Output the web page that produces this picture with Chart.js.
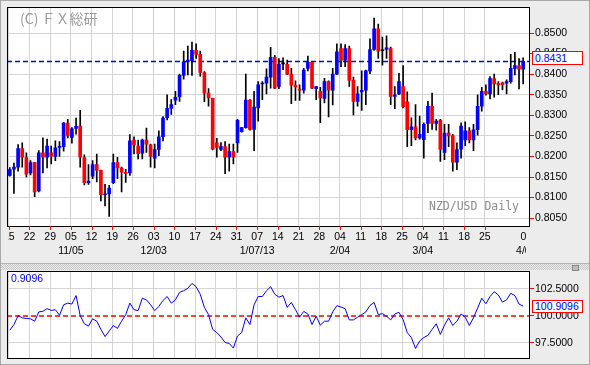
<!DOCTYPE html>
<html>
<head>
<meta charset="utf-8">
<script src="https://cdn.jsdelivr.net/npm/chart.js@4.4.1/dist/chart.umd.min.js"></script>
<style>
html, body { margin: 0; padding: 0; }
body { width: 590px; height: 365px; position: relative; overflow: hidden; background: #ececec; font-family: "Liberation Sans", Arial, sans-serif; }
#frame { position: absolute; left: 0; top: 0; width: 588px; height: 363px; border: 1px solid #a8a8a8; }
#strip { position: absolute; left: 1px; top: 263px; width: 588px; height: 6px; border-top: 1px solid #b4b4b4;
  background: repeating-conic-gradient(#c6c6c6 0 25%, #ececec 0 50%) 0 0 / 2px 2px; }
#stripIcon { position: absolute; left: 572px; top: 265px; width: 5px; height: 4px; border: 1px solid #8a8a8a; background: #bdbdbd; }
canvas { position: absolute; left: 0; }
#main { top: 0; }
#osc { top: 262px; }
.txt { position: absolute; white-space: nowrap; z-index: 5; }
#wm { left: 20px; top: 10px; font: 14px/16px "Noto Sans CJK JP", sans-serif; color: #9a9a9a; }
#pair { left: 429px; top: 199px; font: 11.5px/14px "DejaVu Sans Mono", monospace; color: #8c8c8c; }
.box { position: absolute; z-index: 5; border: 1px solid #ff0000; background: #fff; color: #0000ff; font-size: 10.5px; padding-left: 2px; box-sizing: border-box; }
#priceBox { left: 532px; top: 51px; width: 51px; height: 14px; line-height: 12px; }
#oscBox { left: 532px; top: 300px; width: 51px; height: 13px; line-height: 11px; }
#oscVal { left: 11px; top: 272px; font-size: 10.5px; line-height: 13px; color: #0000ff; }
</style>
</head>
<body>
<div id="frame"></div>
<div id="strip"></div>
<div id="stripIcon"></div>
<canvas id="main" width="590" height="262"></canvas>
<canvas id="osc" width="590" height="103"></canvas>
<div class="txt" id="wm">(C) ＦＸ総研</div>
<div class="txt" id="pair">NZD/USD Daily</div>
<div class="box" id="priceBox">0.8431</div>
<div class="box" id="oscBox">100.9096</div>
<div class="txt" id="oscVal">0.9096</div>
<script>
// NZD/USD daily, 2012/10/15 - 2013/04/05
const opens = [0.8154,0.8169,0.8174,0.8219,0.8197,0.8160,0.8185,0.8116,0.8209,0.8198,
  0.8209,0.8200,0.8222,0.8224,0.8281,0.8246,0.8268,0.8274,0.8197,0.8136,
  0.8152,0.8180,0.8166,0.8107,0.8109,0.8136,0.8185,0.8172,0.8161,0.8160,
  0.8240,0.8225,0.8208,0.8240,0.8228,0.8196,0.8217,0.8248,0.8294,0.8317,
  0.8337,0.8345,0.8397,0.8430,0.8433,0.8458,0.8448,0.8404,0.8354,0.8341,
  0.8233,0.8217,0.8224,0.8198,0.8212,0.8233,0.8260,0.8270,0.8337,0.8266,
  0.8318,0.8376,0.8378,0.8393,0.8441,0.8370,0.8425,0.8424,0.8400,0.8373,
  0.8364,0.8361,0.8414,0.8429,0.8365,0.8358,0.8341,0.8382,0.8361,0.8400,
  0.8462,0.8434,0.8462,0.8385,0.8334,0.8357,0.8361,0.8408,0.8460,0.8510,
  0.8457,0.8460,0.8462,0.8346,0.8352,0.8370,0.8333,0.8265,0.8272,0.8245,
  0.8241,0.8280,0.8322,0.8280,0.8288,0.8210,0.8257,0.8250,0.8186,0.8218,
  0.8240,0.8262,0.8240,0.8265,0.8322,0.8358,0.8352,0.8389,0.8378,0.8379,
  0.8378,0.8382,0.8414,0.8421,0.8412];
const highs = [0.8173,0.8184,0.8229,0.8233,0.8209,0.8190,0.8186,0.8214,0.8245,0.8242,
  0.8225,0.8238,0.8236,0.8283,0.8290,0.8270,0.8293,0.8312,0.8204,0.8180,
  0.8190,0.8206,0.8167,0.8132,0.8130,0.8206,0.8198,0.8174,0.8169,0.8253,
  0.8248,0.8240,0.8242,0.8269,0.8230,0.8230,0.8262,0.8297,0.8350,0.8338,
  0.8358,0.8400,0.8456,0.8468,0.8478,0.8474,0.8456,0.8406,0.8365,0.8342,
  0.8244,0.8234,0.8236,0.8230,0.8230,0.8290,0.8271,0.8400,0.8338,0.8358,
  0.8382,0.8382,0.8413,0.8465,0.8446,0.8438,0.8440,0.8434,0.8414,0.8384,
  0.8374,0.8414,0.8444,0.8430,0.8370,0.8368,0.8390,0.8384,0.8414,0.8474,
  0.8474,0.8472,0.8468,0.8393,0.8370,0.8408,0.8410,0.8486,0.8536,0.8522,
  0.8490,0.8493,0.8466,0.8370,0.8402,0.8421,0.8357,0.8294,0.8326,0.8298,
  0.8282,0.8334,0.8354,0.8290,0.8290,0.8278,0.8278,0.8254,0.8233,0.8282,
  0.8284,0.8270,0.8278,0.8350,0.8368,0.8374,0.8394,0.8400,0.8382,0.8381,
  0.8386,0.8448,0.8453,0.8438,0.8440];
const lows = [0.8152,0.8110,0.8164,0.8174,0.8150,0.8155,0.8102,0.8114,0.8160,0.8172,
  0.8182,0.8190,0.8200,0.8213,0.8245,0.8232,0.8254,0.8174,0.8131,0.8132,
  0.8146,0.8138,0.8092,0.8080,0.8054,0.8134,0.8146,0.8114,0.8137,0.8154,
  0.8206,0.8194,0.8194,0.8210,0.8174,0.8172,0.8202,0.8238,0.8289,0.8302,
  0.8326,0.8334,0.8388,0.8398,0.8397,0.8438,0.8395,0.8333,0.8322,0.8216,
  0.8198,0.8214,0.8158,0.8164,0.8182,0.8210,0.8259,0.8269,0.8264,0.8214,
  0.8286,0.8338,0.8352,0.8366,0.8365,0.8365,0.8411,0.8399,0.8328,0.8336,
  0.8336,0.8354,0.8408,0.8365,0.8338,0.8282,0.8330,0.8296,0.8325,0.8399,
  0.8418,0.8418,0.8370,0.8301,0.8322,0.8312,0.8326,0.8401,0.8458,0.8438,
  0.8422,0.8438,0.8326,0.8316,0.8350,0.8318,0.8224,0.8226,0.8240,0.8242,
  0.8196,0.8258,0.8266,0.8264,0.8188,0.8192,0.8224,0.8164,0.8168,0.8196,
  0.8226,0.8233,0.8214,0.8252,0.8310,0.8349,0.8340,0.8344,0.8350,0.8362,
  0.8352,0.8378,0.8398,0.8364,0.8376];
const closes = [0.8168,0.8174,0.8219,0.8198,0.8157,0.8185,0.8114,0.8209,0.8198,0.8225,
  0.8201,0.8221,0.8224,0.8281,0.8250,0.8267,0.8273,0.8198,0.8136,0.8140,
  0.8180,0.8166,0.8107,0.8109,0.8123,0.8185,0.8172,0.8162,0.8159,0.8238,
  0.8228,0.8207,0.8240,0.8230,0.8200,0.8217,0.8248,0.8293,0.8317,0.8326,
  0.8344,0.8397,0.8430,0.8434,0.8458,0.8448,0.8404,0.8354,0.8342,0.8218,
  0.8222,0.8224,0.8198,0.8212,0.8198,0.8288,0.8270,0.8337,0.8266,0.8320,
  0.8374,0.8378,0.8393,0.8441,0.8366,0.8424,0.8425,0.8400,0.8373,0.8369,
  0.8361,0.8410,0.8429,0.8366,0.8370,0.8342,0.8382,0.8361,0.8400,0.8454,
  0.8434,0.8462,0.8385,0.8334,0.8352,0.8361,0.8408,0.8460,0.8510,0.8456,
  0.8457,0.8464,0.8346,0.8350,0.8382,0.8321,0.8265,0.8272,0.8245,0.8254,
  0.8278,0.8322,0.8280,0.8286,0.8217,0.8257,0.8250,0.8186,0.8217,0.8274,
  0.8262,0.8240,0.8265,0.8322,0.8358,0.8352,0.8389,0.8376,0.8374,0.8374,
  0.8382,0.8414,0.8421,0.8412,0.8431];

// lower panel oscillator (base 100)
const oscValues = [98.68,99.20,100.03,99.82,99.76,99.73,99.51,100.37,100.43,100.67,
  100.51,100.57,100.06,101.03,101.19,101.10,101.89,100.03,99.27,99.05,
  99.73,99.51,98.75,98.08,98.59,99.11,98.84,99.51,100.12,101.19,
  100.58,100.49,101.64,101.49,101.03,100.49,100.88,101.43,101.80,101.19,
  101.49,102.19,102.34,102.56,103.02,102.71,102.01,100.79,100.12,98.75,
  98.45,98.05,97.53,97.44,97.01,98.14,98.45,99.82,99.20,101.03,
  101.80,101.80,102.34,102.71,102.01,101.74,101.89,100.79,101.25,100.58,
  99.88,100.42,100.18,99.20,99.97,99.14,99.51,99.51,100.37,100.95,
  100.82,100.67,99.63,99.63,99.88,100.12,100.37,100.97,101.25,100.12,
  100.21,99.97,99.63,100.18,100.33,99.66,98.45,97.99,96.98,97.68,
  97.99,98.20,98.75,99.27,98.29,99.14,99.82,99.11,99.51,100.18,
  99.88,99.11,99.82,100.73,101.64,101.13,101.80,102.25,101.95,101.28,
  101.49,102.10,101.89,101.10,100.9096];

const tickIndex = [0,5,10,15,20,25,30,35,40,45,50,55,60,65,70,75,80,85,90,95,100,105,110,115,125];
const dayLabels = ['15','22','29','05','12','19','26','03','10','17','24','31','07','14','21','28','04','11','18','25','04','11','18','25','08'];
const monthLabels = ['','','','11/05','','','','12/03','','','','','1/07/13','','','','2/04','','','','3/04','','','','4/08'];
const priceTicks = [0.805,0.810,0.815,0.820,0.825,0.830,0.835,0.840,0.845,0.850];
const oscTicks = [97.5,100,102.5];
const lastPrice = 0.8431;
const oscBase = 100;

const X_MIN = -0.68, X_MAX = 125.41;
const LAST = opens.length - 1;
const BLUE = '#0000ff', RED = '#ff0000', GRID = '#d4d4d4';
const FONT = {family: 'Liberation Sans', size: 10.5};

const candleColor = i => closes[i] > opens[i] ? BLUE : (closes[i] < opens[i] ? RED : '#000000');

const plotFrame = {
  id: 'plotFrame',
  beforeDraw(c) {
    const a = c.chartArea, ctx = c.ctx;
    ctx.save();
    ctx.fillStyle = '#fff';
    ctx.fillRect(a.left, a.top, a.right - a.left, a.bottom - a.top);
    ctx.restore();
  },
  afterDraw(c) {
    const a = c.chartArea, ctx = c.ctx;
    ctx.save();
    ctx.strokeStyle = '#000';
    ctx.lineWidth = 1;
    ctx.strokeRect(Math.round(a.left) + 0.5, Math.round(a.top) + 0.5, Math.round(a.right - a.left), Math.round(a.bottom - a.top));
    ctx.restore();
  }
};

// date labels under the main panel, clipped to the plot width
const dateLabels = {
  id: 'dateLabels',
  afterDraw(c) {
    const {ctx, chartArea: a} = c;
    const x = c.scales.x;
    ctx.save();
    ctx.strokeStyle = RED;
    ctx.lineWidth = 1;
    tickIndex.forEach(v => {
      if (v > LAST) return;
      const px = Math.round(x.getPixelForValue(v - 0.25)) + 0.5;
      ctx.beginPath(); ctx.moveTo(px, a.bottom); ctx.lineTo(px, a.bottom + 4); ctx.stroke();
    });
    ctx.beginPath();
    ctx.rect(a.left + 1, a.bottom, a.right - a.left - 4, 40);
    ctx.clip();
    ctx.font = '10.5px "Liberation Sans"';
    ctx.fillStyle = '#000';
    ctx.textAlign = 'center';
    ctx.textBaseline = 'middle';
    tickIndex.forEach((v, i) => {
      const px = x.getPixelForValue(v - 0.25);
      ctx.fillText(dayLabels[i], px, 237);
      if (monthLabels[i]) ctx.fillText(monthLabels[i], px, 251.5);
    });
    ctx.restore();
  }
};

function xScale() {
  return {
    type: 'linear', min: X_MIN, max: X_MAX, offset: false,
    afterBuildTicks: s => { s.ticks = tickIndex.filter(v => v <= LAST).map(v => ({value: v - 0.25})); },
    grid: {color: GRID, offset: false, drawTicks: false},
    border: {display: false},
    ticks: {display: false}
  };
}

function yScale(min, max, ticks, hideVal) {
  return {
    position: 'right', min: min, max: max,
    afterBuildTicks: s => { s.ticks = ticks.map(v => ({value: v})); },
    afterFit: s => { s.width = 61; },
    grid: {
      color: ctx => Math.abs(ctx.tick.value - hideVal) < 1e-6 ? 'rgba(0,0,0,0)' : GRID,
      tickColor: RED, tickLength: 5
    },
    border: {display: false},
    ticks: {color: '#000', padding: 1, font: FONT, callback: v => v.toFixed(4)}
  };
}

new Chart(document.getElementById('main'), {
  type: 'bar',
  data: {
    datasets: [
      {
        type: 'bar',
        data: opens.map((o, i) => ({x: i, y: [o, closes[i]]})),
        backgroundColor: opens.map((o, i) => candleColor(i)),
        barThickness: 3, minBarLength: 1, grouped: false, order: 0
      },
      {
        type: 'bar',
        data: lows.map((l, i) => ({x: i, y: [l, highs[i]]})),
        backgroundColor: '#000',
        barThickness: 1, grouped: false, order: 1
      },
      {
        type: 'line',
        data: [{x: X_MIN, y: lastPrice}, {x: X_MAX, y: lastPrice}],
        borderColor: BLUE, borderWidth: 1.5, borderDash: [5, 3],
        pointRadius: 0, order: 2
      }
    ]
  },
  options: {
    responsive: false, animation: false, events: [],
    layout: {padding: {left: 7, top: 5, right: 0, bottom: 36}},
    plugins: {legend: {display: false}, tooltip: {enabled: false}},
    scales: {
      x: xScale(),
      y: yScale(0.80310, 0.85625, priceTicks, 0.845)
    }
  },
  plugins: [plotFrame, dateLabels]
});

new Chart(document.getElementById('osc'), {
  type: 'line',
  data: {
    datasets: [
      {
        data: oscValues.map((v, i) => ({x: i, y: v})),
        borderColor: BLUE, borderWidth: 1, pointRadius: 0, tension: 0, order: 0
      },
      {
        data: [{x: X_MIN, y: oscBase}, {x: X_MAX, y: oscBase}],
        borderColor: RED, borderWidth: 1.5, borderDash: [5, 3], pointRadius: 0, order: 1
      }
    ]
  },
  options: {
    responsive: false, animation: false, events: [],
    layout: {padding: {left: 7, top: 9, right: 0, bottom: 6}},
    plugins: {legend: {display: false}, tooltip: {enabled: false}},
    scales: {
      x: xScale(),
      y: yScale(96.12, 104.17, oscTicks, oscBase)
    }
  },
  plugins: [plotFrame]
});
</script>
</body>
</html>
